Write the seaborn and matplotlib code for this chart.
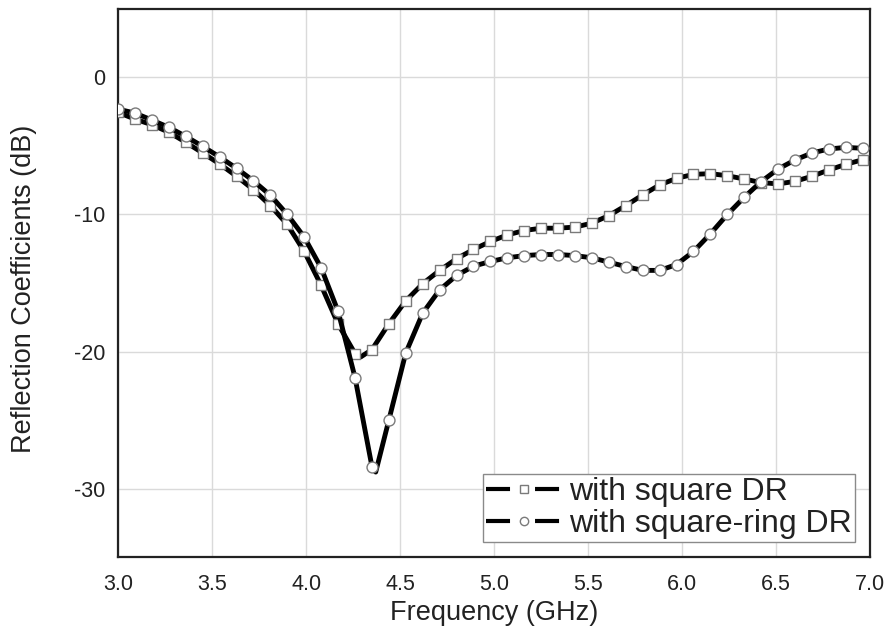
import matplotlib
matplotlib.use("Agg")
import matplotlib.pyplot as plt
from matplotlib.lines import Line2D
import pandas as pd
import seaborn as sns

# Marker positions (GHz) shared by both traces
freq = [3.00, 3.09, 3.18, 3.27, 3.36, 3.45, 3.54, 3.63, 3.72, 3.81,
        3.90, 3.99, 4.08, 4.17, 4.26, 4.35, 4.44, 4.53, 4.62, 4.71,
        4.80, 4.89, 4.98, 5.07, 5.16, 5.25, 5.34, 5.43, 5.52, 5.61,
        5.70, 5.79, 5.88, 5.97, 6.06, 6.15, 6.24, 6.33, 6.42, 6.51,
        6.60, 6.69, 6.78, 6.87, 6.96]

# Reflection coefficient (dB) with the square dielectric resonator
square_db = [-2.55, -3.04, -3.45, -4.00, -4.73, -5.51, -6.31, -7.21, -8.19, -9.35,
             -10.73, -12.70, -15.18, -18.00, -20.15, -19.86, -17.97, -16.30, -15.05, -14.08,
             -13.23, -12.55, -11.97, -11.49, -11.17, -11.00, -11.00, -10.92, -10.63, -10.08,
             -9.35, -8.57, -7.84, -7.36, -7.07, -7.02, -7.17, -7.41, -7.67, -7.77,
             -7.58, -7.21, -6.75, -6.34, -6.00]

# Reflection coefficient (dB) with the square-ring dielectric resonator
ring_db = [-2.31, -2.60, -3.11, -3.64, -4.30, -5.03, -5.80, -6.63, -7.55, -8.60,
           -10.00, -11.65, -13.90, -17.07, -21.90, -28.40, -25.00, -20.10, -17.20, -15.50,
           -14.45, -13.77, -13.43, -13.16, -13.00, -12.92, -12.92, -13.00, -13.16, -13.48,
           -13.80, -14.08, -14.08, -13.65, -12.70, -11.41, -10.00, -8.74, -7.60, -6.68,
           -6.02, -5.51, -5.22, -5.10, -5.17]

# Unmarked points on each trace: resonance minimum and band edge
square_extra_freq = [4.29, 7.00]
square_extra_db = [-20.4, -5.9]
ring_extra_freq = [4.37, 7.00]
ring_extra_db = [-28.8, -5.2]

labels = ["with square DR", "with square-ring DR"]
x_ticks = [3.0, 3.5, 4.0, 4.5, 5.0, 5.5, 6.0, 6.5, 7.0]
y_ticks = [0, -10, -20, -30]

sns.set_style("white")
plt.rcParams["font.family"] = ["Liberation Sans", "DejaVu Sans"]
plt.rcParams["lines.scale_dashes"] = False

marks = pd.concat([
    pd.DataFrame({"freq": freq, "db": square_db, "series": labels[0]}),
    pd.DataFrame({"freq": freq, "db": ring_db, "series": labels[1]}),
], ignore_index=True)
extras = pd.concat([
    pd.DataFrame({"freq": square_extra_freq, "db": square_extra_db, "series": labels[0]}),
    pd.DataFrame({"freq": ring_extra_freq, "db": ring_extra_db, "series": labels[1]}),
], ignore_index=True)
traces = pd.concat([marks, extras], ignore_index=True).sort_values(["series", "freq"])

fig = plt.figure(figsize=(8.88, 6.41), dpi=100)
ax = fig.add_axes([0.133, 0.131, 0.847, 0.855])

styles = {labels[0]: ("s", 48), labels[1]: ("o", 62)}
z = 3
for name in labels:
    mk, size = styles[name]
    sns.lineplot(data=traces[traces.series == name], x="freq", y="db",
                 color="black", lw=3.5, sort=True, estimator=None,
                 legend=False, ax=ax, zorder=z)
    sns.scatterplot(data=marks[marks.series == name], x="freq", y="db",
                    marker=mk, s=size, color="white", edgecolor="#7a7a7a",
                    linewidth=1.0, legend=False, ax=ax, zorder=z + 1)
    z += 2

ax.set_xlim(3.0, 7.0)
ax.set_ylim(-35, 5)
ax.set_xticks(x_ticks)
ax.set_xticklabels([f"{t:.1f}" for t in x_ticks])
ax.set_yticks(y_ticks)
ax.set_yticklabels([str(t) for t in y_ticks])
ax.tick_params(axis="both", length=0, labelsize=15.5, colors="#222222")
ax.tick_params(axis="x", pad=12)
ax.tick_params(axis="y", pad=9)

ax.grid(True, color="#dadada", lw=1.0)
ax.set_axisbelow(True)
for sp in ax.spines.values():
    sp.set_visible(True)
    sp.set_color("#222222")
    sp.set_linewidth(1.6)

ax.set_xlabel("Frequency (GHz)", fontsize=19.5, color="#222222")
ax.set_ylabel("Reflection Coefficients (dB)", fontsize=19.5, color="#222222")
ax.xaxis.set_label_coords(0.5, -0.078)
ax.yaxis.set_label_coords(-0.108, 0.49)

handles = [
    Line2D([], [], color="black", lw=3.0, dashes=(17.3, 18.0), marker="s",
           ms=5.5, mfc="white", mec="#7a7a7a", mew=1.0),
    Line2D([], [], color="black", lw=3.0, dashes=(17.3, 18.0), marker="o",
           ms=6.0, mfc="white", mec="#7a7a7a", mew=1.0),
]
leg = ax.legend(handles=handles, labels=labels, loc="lower right",
                bbox_to_anchor=(0.980, 0.027), borderaxespad=0,
                frameon=True, fancybox=False, framealpha=1,
                edgecolor="#8a8a8a", fontsize=23, handlelength=2.35,
                handletextpad=0.25, borderpad=0.1, labelspacing=0.05,
                numpoints=1)
leg.get_frame().set_linewidth(1.0)
for t in leg.get_texts():
    t.set_color("#222222")

fig.savefig("out.png", dpi=100)
